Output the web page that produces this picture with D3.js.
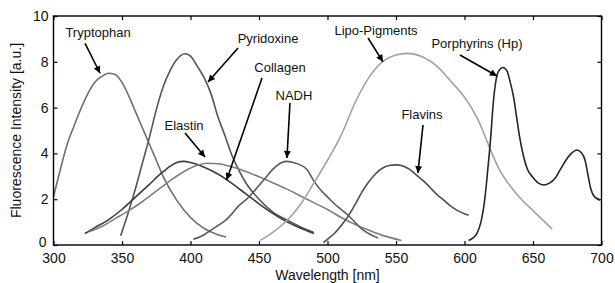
<!DOCTYPE html>
<html>
<head>
<meta charset="utf-8">
<script src="https://cdn.jsdelivr.net/npm/d3@7"></script>
<style>
  html, body { margin: 0; padding: 0; background: #fff; }
  svg { display: block; font-family: "Liberation Sans", Arial, sans-serif; }
</style>
</head>
<body>
<div id="chart"></div>
<script>
// Emission spectra of endogenous fluorophores

const tryptophanNm  = [300, 305, 310, 315, 320, 325, 330, 335, 340, 345, 350, 355, 360, 365, 370, 375, 380, 390, 400, 410, 420, 426];
const tryptophanVal = [2.1, 3.3, 4.4, 5.2, 5.95, 6.6, 7.1, 7.35, 7.5, 7.45, 7.1, 6.5, 5.8, 5.1, 4.4, 3.7, 3.0, 1.95, 1.2, 0.72, 0.45, 0.35];

const pyridoxineNm  = [349, 355, 360, 365, 370, 375, 380, 385, 390, 396, 400, 405, 410, 415, 420, 425, 430, 435, 440, 450, 460, 470, 480, 490];
const pyridoxineVal = [0.4, 1.5, 2.5, 3.6, 4.7, 5.9, 6.9, 7.6, 8.1, 8.35, 8.25, 7.8, 7.3, 6.6, 5.6, 4.8, 3.95, 3.3, 2.75, 2.0, 1.45, 1.1, 0.8, 0.55];

const collagenNm  = [323, 330, 340, 350, 360, 370, 380, 390, 395, 400, 410, 420, 430, 440, 450, 460, 470, 480, 490];
const collagenVal = [0.5, 0.75, 1.1, 1.55, 2.1, 2.65, 3.2, 3.6, 3.65, 3.6, 3.4, 3.1, 2.7, 2.25, 1.8, 1.38, 1.02, 0.74, 0.5];

const elastinNm  = [326, 335, 345, 355, 365, 375, 385, 395, 405, 412, 420, 430, 440, 450, 460, 470, 480, 490, 500, 510, 520, 530, 540, 554];
const elastinVal = [0.58, 0.8, 1.15, 1.5, 1.9, 2.35, 2.8, 3.2, 3.48, 3.57, 3.55, 3.42, 3.22, 2.98, 2.72, 2.45, 2.15, 1.85, 1.55, 1.2, 0.9, 0.65, 0.42, 0.2];

const nadhNm  = [402, 410, 415, 420, 425, 430, 435, 440, 445, 450, 455, 460, 465, 470, 475, 480, 485, 490, 495, 500, 505, 510, 515, 520, 525, 530, 537];
const nadhVal = [0.25, 0.45, 0.65, 0.85, 1.05, 1.35, 1.7, 1.95, 2.25, 2.6, 2.95, 3.3, 3.55, 3.65, 3.6, 3.5, 3.3, 2.8, 2.4, 2.1, 1.8, 1.55, 1.3, 1.0, 0.7, 0.5, 0.3];

const lipoNm  = [451, 460, 470, 480, 490, 500, 510, 520, 530, 540, 550, 558, 570, 580, 590, 600, 605, 610, 615, 620, 625, 630, 635, 640, 650, 664];
const lipoVal = [0.2, 0.55, 1.05, 1.75, 2.7, 3.7, 4.8, 6.2, 7.3, 8.0, 8.3, 8.37, 8.2, 7.8, 7.15, 6.45, 6.0, 5.45, 4.75, 4.0, 3.35, 2.85, 2.45, 2.1, 1.5, 0.7];

const flavinsNm  = [497, 500, 505, 510, 515, 520, 525, 530, 535, 540, 545, 550, 555, 560, 565, 570, 575, 580, 585, 590, 595, 603];
const flavinsVal = [0.1, 0.25, 0.5, 0.85, 1.25, 1.75, 2.3, 2.75, 3.1, 3.35, 3.47, 3.5, 3.45, 3.3, 3.05, 2.8, 2.5, 2.2, 1.95, 1.7, 1.5, 1.3];

const porphyrinsNm  = [603, 606, 609, 612, 615, 617, 619, 621, 623, 625, 628, 631, 633, 636, 638, 640, 643, 646, 650, 654, 658, 662, 666, 670, 674, 678, 682, 685, 688, 690, 692, 695, 699];
const porphyrinsVal = [0.2, 0.3, 0.5, 1.0, 2.1, 3.3, 4.6, 6.2, 7.2, 7.6, 7.75, 7.6, 7.2, 6.4, 5.6, 4.8, 3.9, 3.3, 2.95, 2.7, 2.62, 2.7, 2.9, 3.3, 3.7, 4.0, 4.15, 4.05, 3.7, 3.1, 2.5, 2.1, 1.97];

const xTicks = [300, 350, 400, 450, 500, 550, 600, 650, 700];
const yTicks = [0, 2, 4, 6, 8, 10];

// series list (data + line colour)
const series = [
  { name: 'Tryptophan', nm: tryptophanNm, val: tryptophanVal, color: '#6e6e6e' },
  { name: 'Pyridoxine', nm: pyridoxineNm, val: pyridoxineVal, color: '#555555' },
  { name: 'Collagen', nm: collagenNm, val: collagenVal, color: '#3c3c3c' },
  { name: 'Elastin', nm: elastinNm, val: elastinVal, color: '#7e7e7e' },
  { name: 'NADH', nm: nadhNm, val: nadhVal, color: '#5a5a5a' },
  { name: 'Lipo-Pigments', nm: lipoNm, val: lipoVal, color: '#a2a2a2' },
  { name: 'Flavins', nm: flavinsNm, val: flavinsVal, color: '#4e4e4e' },
  { name: 'Porphyrins (Hp)', nm: porphyrinsNm, val: porphyrinsVal, color: '#262626' }
];

// annotations: text position and arrow (from -> tip), in data units
const notes = [
  { text: 'Tryptophan', tx: 332.5, ty: 9.26, ax: [323, 8.8], tip: [334, 7.5] },
  { text: 'Pyridoxine', tx: 456.6, ty: 9.04, ax: [434.7, 8.6], tip: [412.8, 7.12] },
  { text: 'Collagen', tx: 465.3, ty: 7.77, ax: [452.2, 7.29], tip: [426.4, 2.84] },
  { text: 'NADH', tx: 475.5, ty: 6.55, ax: [472.6, 6.2], tip: [470.4, 3.8] },
  { text: 'Elastin', tx: 395.3, ty: 5.24, ax: [396, 4.89], tip: [410.6, 3.84] },
  { text: 'Lipo-Pigments', tx: 535.4, ty: 9.39, ax: [529.6, 9.04], tip: [540.5, 8.0] },
  { text: 'Porphyrins (Hp)', tx: 609.1, ty: 8.82, ax: [596.7, 8.3], tip: [623.7, 7.38] },
  { text: 'Flavins', tx: 569, ty: 5.68, ax: [569.7, 5.24], tip: [566, 3.14] }
];

const W = 615, H = 283;
const margin = { top: 16, right: 13.5, bottom: 38, left: 53.5 };
const width = W - margin.left - margin.right;
const height = H - margin.top - margin.bottom;

const svg = d3.select('#chart')
  .append('svg')
  .attr('width', W)
  .attr('height', H);

svg.append('defs').append('marker')
  .attr('id', 'arrow')
  .attr('viewBox', '0 0 10 10')
  .attr('refX', 10)
  .attr('refY', 5)
  .attr('markerWidth', 9)
  .attr('markerHeight', 7)
  .attr('markerUnits', 'userSpaceOnUse')
  .attr('orient', 'auto')
  .append('path')
  .attr('d', 'M0,0 L10,5 L0,10 z')
  .attr('fill', '#000');

const g = svg.append('g')
  .attr('transform', `translate(${margin.left},${margin.top})`);

const x = d3.scaleLinear().domain([300, 700]).range([0, width]);
const y = d3.scaleLinear().domain([0, 10]).range([height, 0]);

// axes (ticks point inwards on all four sides)
const styleAxis = (sel) => {
  sel.select('.domain').remove();
  sel.selectAll('line').attr('stroke', '#000').attr('stroke-width', 1.2);
  sel.selectAll('text').attr('font-size', 14).attr('fill', '#111');
};

g.append('g')
  .attr('transform', `translate(0,${height})`)
  .call(d3.axisBottom(x).tickValues(xTicks).tickSizeInner(-4).tickSizeOuter(0).tickPadding(8))
  .call(styleAxis);

g.append('g')
  .call(d3.axisTop(x).tickValues(xTicks).tickSizeInner(-4).tickSizeOuter(0).tickFormat(''))
  .call(styleAxis);

const yAxisG = g.append('g')
  .call(d3.axisLeft(y).tickValues(yTicks).tickSizeInner(-4).tickSizeOuter(0).tickPadding(5))
  .call(styleAxis);

// lift the "0" a little so it clears the "300" below it
yAxisG.selectAll('.tick text')
  .filter((d) => d === 0)
  .attr('dx', -2)
  .attr('dy', '0.1em');

g.append('g')
  .attr('transform', `translate(${width},0)`)
  .call(d3.axisRight(y).tickValues(yTicks).tickSizeInner(-4).tickSizeOuter(0).tickFormat(''))
  .call(styleAxis);

// spectra
const line = d3.line()
  .x((d) => x(d[0]))
  .y((d) => y(d[1]))
  .curve(d3.curveMonotoneX);

series.forEach((s) => {
  g.append('path')
    .datum(s.nm.map((n, i) => [n, s.val[i]]))
    .attr('fill', 'none')
    .attr('stroke', s.color)
    .attr('stroke-width', 1.6)
    .attr('stroke-linejoin', 'round')
    .attr('d', line);
});

// frame
g.append('rect')
  .attr('width', width)
  .attr('height', height)
  .attr('fill', 'none')
  .attr('stroke', '#000')
  .attr('stroke-width', 1.4);

// labels with arrows
notes.forEach((n) => {
  g.append('line')
    .attr('x1', x(n.ax[0]))
    .attr('y1', y(n.ax[1]))
    .attr('x2', x(n.tip[0]))
    .attr('y2', y(n.tip[1]))
    .attr('stroke', '#000')
    .attr('stroke-width', 1.6)
    .attr('marker-end', 'url(#arrow)');

  g.append('text')
    .attr('x', x(n.tx))
    .attr('y', y(n.ty))
    .attr('dy', '0.35em')
    .attr('text-anchor', 'middle')
    .attr('font-size', 13)
    .attr('fill', '#111')
    .text(n.text);
});

// axis titles
svg.append('text')
  .attr('x', margin.left + width / 2)
  .attr('y', H - 3)
  .attr('text-anchor', 'middle')
  .attr('font-size', 14)
  .attr('fill', '#111')
  .text('Wavelength [nm]');

svg.append('text')
  .attr('transform', `translate(16,${margin.top + height / 2}) rotate(-90)`)
  .attr('dy', '0.35em')
  .attr('text-anchor', 'middle')
  .attr('font-size', 14)
  .attr('fill', '#111')
  .text('Fluorescence Intensity [a.u.]');
</script>
</body>
</html>
